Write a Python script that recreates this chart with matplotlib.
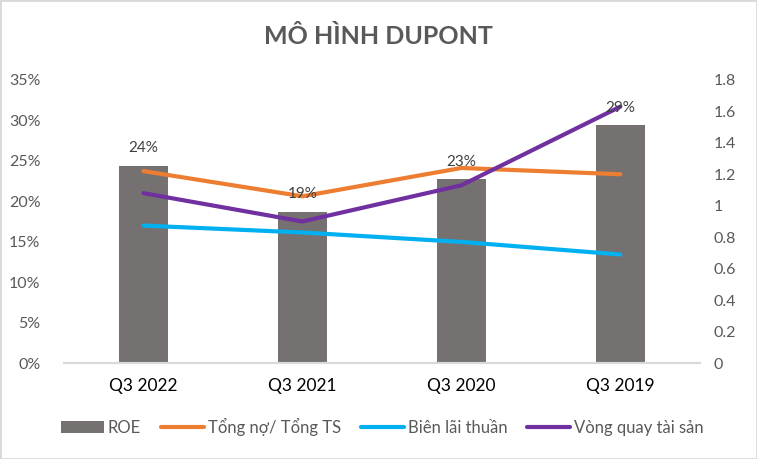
import matplotlib
matplotlib.use("Agg")
import matplotlib.pyplot as plt
from matplotlib.ticker import FuncFormatter
from matplotlib.patches import Rectangle
import numpy as np

plt.rcParams['font.family'] = ['Lato', 'DejaVu Sans']

# data
quarters = ['Q3 2022', 'Q3 2021', 'Q3 2020', 'Q3 2019']
roe = [0.244, 0.187, 0.227, 0.294]
no_ts = [1.22, 1.06, 1.24, 1.20]
bien_lai = [0.874, 0.83, 0.77, 0.69]
vong_quay = [1.08, 0.90, 1.13, 1.63]

grey = '#595959'
fig = plt.figure(figsize=(7.57, 4.59), dpi=100)
fig.patches.append(Rectangle((0, 0), 1, 1, transform=fig.transFigure,
                             fill=False, edgecolor='#d9d9d9', linewidth=2))

ax = fig.add_axes([0.0845, 0.209, 0.84, 0.617])
x = np.arange(len(quarters))
bars = ax.bar(x, roe, width=0.31, color='#767171', label='ROE', zorder=2)

ax.set_ylim(0, 0.35)
ax.set_yticks(np.arange(0, 0.351, 0.05))
ax.yaxis.set_major_formatter(FuncFormatter(lambda v, p: f"{v*100:.0f}%"))
ax.set_xlim(-0.5, 3.5)
ax.set_xticks(x)
ax.set_xticklabels(quarters, fontsize=12.5, color='black')

ax2 = ax.twinx()
l1, = ax2.plot(x, no_ts, color='#ED7D31', lw=3, label='Tổng nợ/ Tổng TS', solid_capstyle='round')
l2, = ax2.plot(x, bien_lai, color='#00B0F0', lw=3, label='Biên lãi thuần', solid_capstyle='round')
l3, = ax2.plot(x, vong_quay, color='#7030A0', lw=3, label='Vòng quay tài sản', solid_capstyle='round')
ax2.set_ylim(0, 1.8)
ax2.set_yticks(np.arange(0, 1.81, 0.2))
ax2.yaxis.set_major_formatter(FuncFormatter(lambda v, p: f"{v:.1f}".rstrip('0').rstrip('.') if v else "0"))

# bar labels drawn on top of the lines
for xi, v in zip(x, roe):
    ax2.annotate(f"{v*100:.0f}%", xy=(xi, v), xycoords=('data', ax.transData),
                 xytext=(0, 7.5), textcoords='offset points', ha='center', va='bottom',
                 fontsize=11, color='#404040', zorder=5)

for a in (ax, ax2):
    for s in ('top', 'left', 'right'):
        a.spines[s].set_visible(False)
    a.spines['bottom'].set_color('#d9d9d9')
    a.spines['bottom'].set_linewidth(1.5)
    a.tick_params(axis='y', length=0, labelsize=11.5, labelcolor=grey)
ax.tick_params(axis='y', pad=17)
ax.tick_params(axis='x', length=0, pad=11)
ax2.tick_params(axis='y', pad=10)

fig.text(0.5, 0.92, 'MÔ HÌNH DUPONT', ha='center', va='center',
         fontsize=18, fontweight='bold', color=grey)

fig.legend(handles=[bars, l1, l2, l3], loc='center', bbox_to_anchor=(0.505, 0.07),
           ncol=4, frameon=False, fontsize=12, handlelength=2.6, columnspacing=1.2,
           handletextpad=0.2, labelcolor=grey)

fig.savefig('out.png', dpi=100)
